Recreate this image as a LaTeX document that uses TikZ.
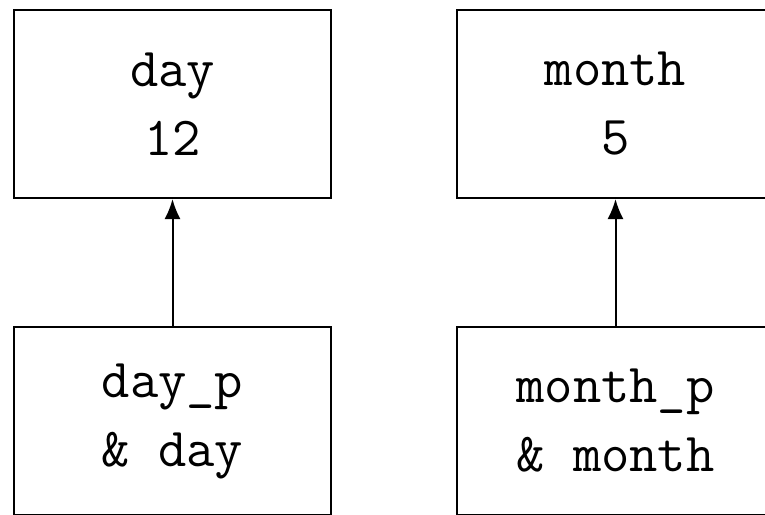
\documentclass[tikz,border=0pt]{standalone}
\usepackage{fontspec}
\usetikzlibrary{positioning,arrows.meta}

\begin{document}
\begin{tikzpicture}[>={Latex[length=10pt,width=8pt]},
    var/.style={draw, line width=1pt, minimum width=158.5pt, minimum height=94pt,
        align=center, inner sep=0pt,
        font=\ttfamily\fontsize{27.5}{34.5}\selectfont},
    node distance=63.5pt and 62pt]
\useasboundingbox (0,0) rectangle (382.5pt,-257pt);

\node[var] (day) at (86.25pt,-52pt) {day\\12};
\node[var, right=of day] (month) {month\\5};
\node[var, below=of day] (dayp) {day\_p\\\& day};
\node[var, below=of month] (monthp) {month\_p\\\& month};

\foreach \from/\to in {dayp/day, monthp/month}
    \draw[->, line width=1pt] (\from) -- (\to);

\end{tikzpicture}
\end{document}
